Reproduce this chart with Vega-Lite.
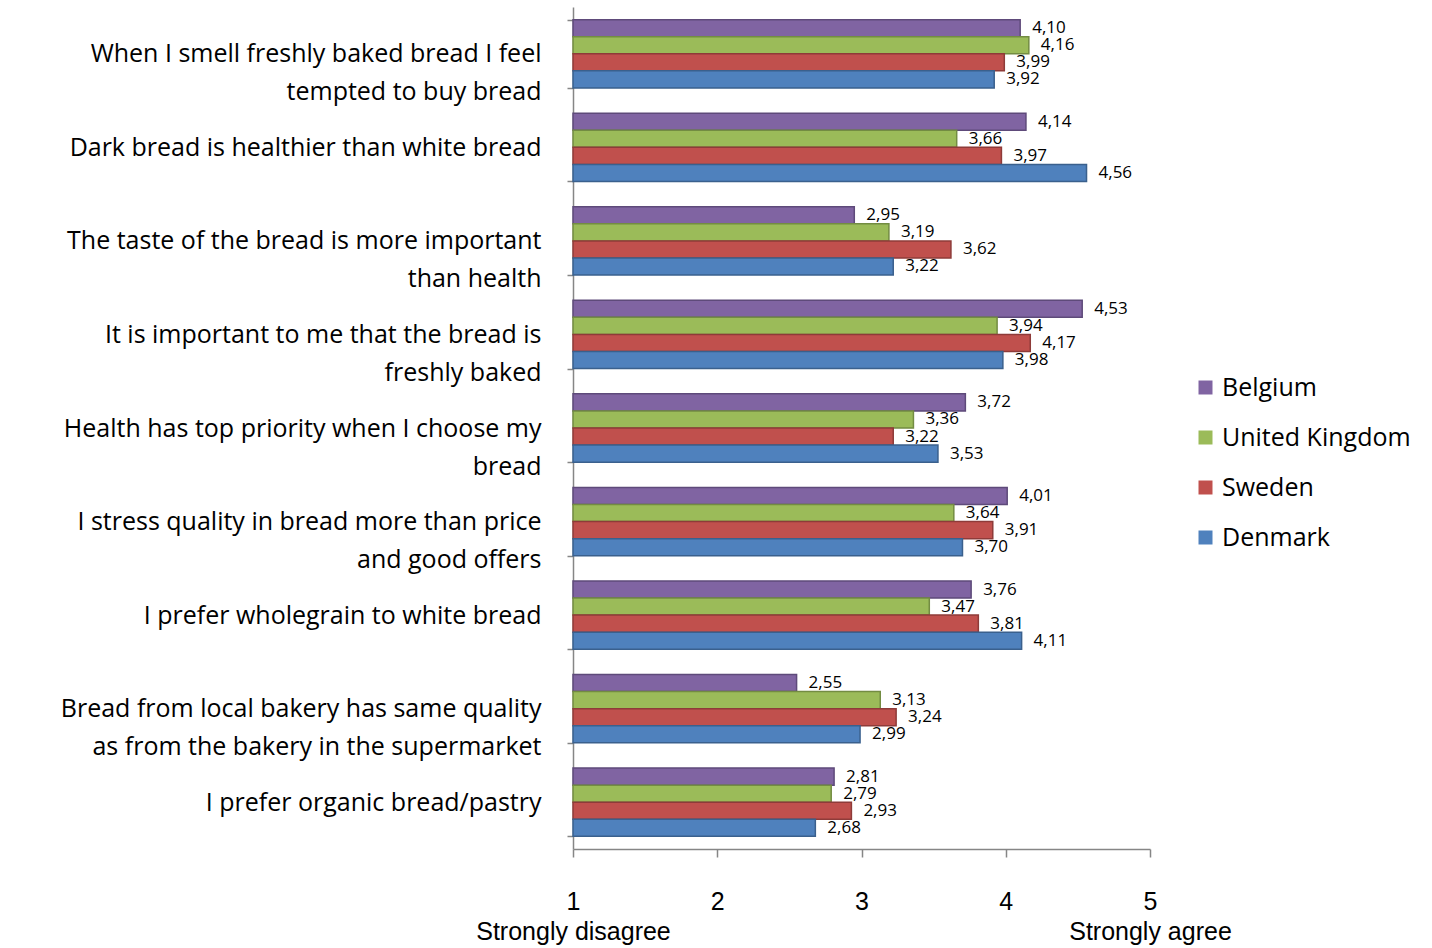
{
  "$schema": "https://vega.github.io/schema/vega-lite/v6.json",
  "width": 577,
  "height": 842,
  "autosize": {"type": "none"},
  "padding": {"left": 573, "top": 7, "right": 282, "bottom": 99},
  "background": "white",
  "config": {
    "view": {"stroke": null},
    "locale": {"number": {"decimal": ",", "thousands": ".", "grouping": [3], "currency": ["", ""]}}
  },
  "data": {
    "values": [
      {"statement": "When I smell freshly baked bread I feel|tempted to buy bread", "country": "Belgium", "score": 4.10},
      {"statement": "When I smell freshly baked bread I feel|tempted to buy bread", "country": "United Kingdom", "score": 4.16},
      {"statement": "When I smell freshly baked bread I feel|tempted to buy bread", "country": "Sweden", "score": 3.99},
      {"statement": "When I smell freshly baked bread I feel|tempted to buy bread", "country": "Denmark", "score": 3.92},
      {"statement": "Dark bread is healthier than white bread", "country": "Belgium", "score": 4.14},
      {"statement": "Dark bread is healthier than white bread", "country": "United Kingdom", "score": 3.66},
      {"statement": "Dark bread is healthier than white bread", "country": "Sweden", "score": 3.97},
      {"statement": "Dark bread is healthier than white bread", "country": "Denmark", "score": 4.56},
      {"statement": "The taste of the bread is more important|than health", "country": "Belgium", "score": 2.95},
      {"statement": "The taste of the bread is more important|than health", "country": "United Kingdom", "score": 3.19},
      {"statement": "The taste of the bread is more important|than health", "country": "Sweden", "score": 3.62},
      {"statement": "The taste of the bread is more important|than health", "country": "Denmark", "score": 3.22},
      {"statement": "It is important to me that the bread is|freshly baked", "country": "Belgium", "score": 4.53},
      {"statement": "It is important to me that the bread is|freshly baked", "country": "United Kingdom", "score": 3.94},
      {"statement": "It is important to me that the bread is|freshly baked", "country": "Sweden", "score": 4.17},
      {"statement": "It is important to me that the bread is|freshly baked", "country": "Denmark", "score": 3.98},
      {"statement": "Health has top priority when I choose my|bread", "country": "Belgium", "score": 3.72},
      {"statement": "Health has top priority when I choose my|bread", "country": "United Kingdom", "score": 3.36},
      {"statement": "Health has top priority when I choose my|bread", "country": "Sweden", "score": 3.22},
      {"statement": "Health has top priority when I choose my|bread", "country": "Denmark", "score": 3.53},
      {"statement": "I stress quality in bread more than price|and good offers", "country": "Belgium", "score": 4.01},
      {"statement": "I stress quality in bread more than price|and good offers", "country": "United Kingdom", "score": 3.64},
      {"statement": "I stress quality in bread more than price|and good offers", "country": "Sweden", "score": 3.91},
      {"statement": "I stress quality in bread more than price|and good offers", "country": "Denmark", "score": 3.70},
      {"statement": "I prefer  wholegrain to white bread", "country": "Belgium", "score": 3.76},
      {"statement": "I prefer  wholegrain to white bread", "country": "United Kingdom", "score": 3.47},
      {"statement": "I prefer  wholegrain to white bread", "country": "Sweden", "score": 3.81},
      {"statement": "I prefer  wholegrain to white bread", "country": "Denmark", "score": 4.11},
      {"statement": "Bread from local bakery has same quality|as from the bakery in the supermarket", "country": "Belgium", "score": 2.55},
      {"statement": "Bread from local bakery has same quality|as from the bakery in the supermarket", "country": "United Kingdom", "score": 3.13},
      {"statement": "Bread from local bakery has same quality|as from the bakery in the supermarket", "country": "Sweden", "score": 3.24},
      {"statement": "Bread from local bakery has same quality|as from the bakery in the supermarket", "country": "Denmark", "score": 2.99},
      {"statement": "I prefer organic bread/pastry", "country": "Belgium", "score": 2.81},
      {"statement": "I prefer organic bread/pastry", "country": "United Kingdom", "score": 2.79},
      {"statement": "I prefer organic bread/pastry", "country": "Sweden", "score": 2.93},
      {"statement": "I prefer organic bread/pastry", "country": "Denmark", "score": 2.68}
    ]
  },
  "encoding": {
    "y": {
      "field": "statement",
      "type": "nominal",
      "sort": null,
      "title": null,
      "scale": {"paddingInner": 0.27, "paddingOuter": 0.135},
      "axis": {
        "labelExpr": "split(datum.label, '|')",
        "labelFont": "Open Sans",
        "labelFontSize": 25,
        "labelColor": "#000000",
        "labelLineHeight": 38,
        "labelAlign": "right",
        "labelPadding": 26,
        "labelLimit": 0,
        "labelBound": false,
        "labelOverlap": false,
        "tickBand": "extent",
        "tickSize": 6,
        "tickColor": "#868686",
        "tickWidth": 1.5,
        "domainColor": "#868686",
        "domainWidth": 1.5
      }
    },
    "yOffset": {
      "field": "country",
      "type": "nominal",
      "sort": ["Belgium", "United Kingdom", "Sweden", "Denmark"]
    },
    "x": {
      "field": "score",
      "type": "quantitative",
      "title": null,
      "scale": {"domain": [1, 5], "nice": false, "zero": false},
      "axis": {
        "values": [1, 2, 3, 4, 5],
        "labelExpr": "datum.value == 1 ? ['1', 'Strongly disagree'] : datum.value == 5 ? ['5', 'Strongly agree'] : datum.label",
        "grid": false,
        "tickSize": 8,
        "tickColor": "#868686",
        "tickWidth": 1.5,
        "domainColor": "#868686",
        "domainWidth": 1.5,
        "labelPadding": 32,
        "labelFont": "Liberation Sans",
        "labelFontSize": 25,
        "labelLineHeight": 30,
        "labelColor": "#000000",
        "labelLimit": 0,
        "labelFlush": false,
        "labelOverlap": false,
        "labelBound": false
      }
    }
  },
  "layer": [
    {
      "mark": {"type": "bar", "strokeWidth": 1.5},
      "encoding": {
        "x2": {"datum": 1},
        "color": {
          "field": "country",
          "type": "nominal",
          "sort": ["Belgium", "United Kingdom", "Sweden", "Denmark"],
          "scale": {
            "domain": ["Belgium", "United Kingdom", "Sweden", "Denmark"],
            "range": ["#8064A2", "#9BBB59", "#C0504D", "#4F81BD"]
          },
          "legend": {
            "title": null,
            "orient": "none",
            "legendX": 620,
            "legendY": 368,
            "labelFont": "Open Sans",
            "labelFontSize": 25,
            "labelColor": "#000000",
            "labelLimit": 0,
            "symbolType": "square",
            "symbolSize": 196,
            "symbolStrokeWidth": 0,
            "labelOffset": 4,
            "rowPadding": 24
          }
        },
        "stroke": {
          "field": "country",
          "type": "nominal",
          "scale": {
            "domain": ["Belgium", "United Kingdom", "Sweden", "Denmark"],
            "range": ["#5E4A7A", "#738C42", "#8E3B39", "#3A608D"]
          },
          "legend": null
        }
      }
    },
    {
      "mark": {"type": "text", "align": "left", "baseline": "middle", "dx": 12, "font": "Open Sans", "fontSize": 17, "color": "#000000"},
      "encoding": {
        "text": {"field": "score", "type": "quantitative", "format": ".2f"}
      }
    }
  ]
}
